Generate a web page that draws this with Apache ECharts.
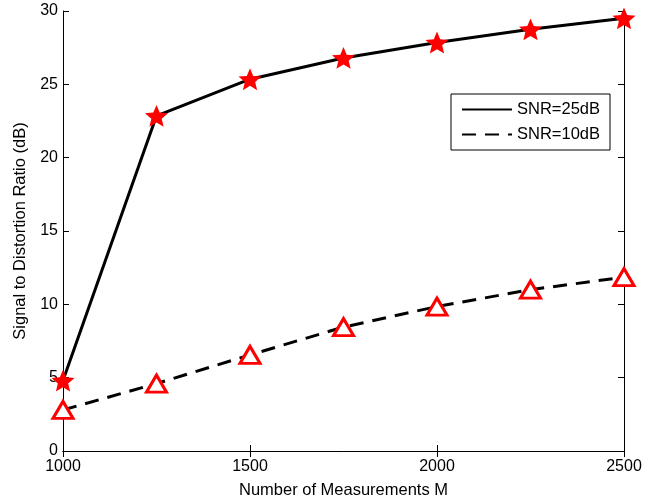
<!DOCTYPE html>
<html><head><meta charset="utf-8">
<script src="https://cdn.jsdelivr.net/npm/echarts@6/dist/echarts.min.js"></script>
<style>html,body{margin:0;padding:0;background:#fff}#c{width:667px;height:504px}</style>
</head><body><div id="c"></div>
<script>
var measurements = [1000, 1250, 1500, 1750, 2000, 2250, 2500];
var snr25 = [4.8, 22.85, 25.35, 26.8, 27.85, 28.75, 29.5];
var snr10 = [2.8, 4.6, 6.55, 8.45, 9.85, 11.0, 11.85];
var seriesNames = ['SNR=25dB', 'SNR=10dB'];
var xTicks = [1000, 1500, 2000, 2500];
var yTicks = [0, 5, 10, 15, 20, 25, 30];

var starPath = 'path://M0,-10 L2.645,-3.64 L9.51,-3.09 L4.28,1.39 L5.88,8.09 L0,4.5 L-5.88,8.09 L-4.28,1.39 L-9.51,-3.09 L-2.645,-3.64 Z';
var font = '"Liberation Sans", Arial, Helvetica, sans-serif';

function pairs(xs, ys){ return xs.map(function(x,i){ return [x, ys[i]]; }); }

var axisCommon = {
  axisLine: {show: true, lineStyle: {color: '#000', width: 1}},
  axisTick: {show: true, inside: true, length: 6, lineStyle: {color: '#000'}},
  splitLine: {show: false}
};

var chart = echarts.init(document.getElementById('c'));
chart.setOption({
  animation: false,
  backgroundColor: '#fff',
  textStyle: {fontFamily: font},
  grid: {left: 63, right: 43, top: 11, bottom: 51},
  legend: {
    data: seriesNames,
    orient: 'vertical',
    left: 451, top: 94,
    padding: [7, 10, 7, 10],
    itemGap: 8,
    itemWidth: 50, itemHeight: 17,
    itemStyle: {opacity: 0},
    borderColor: '#000', borderWidth: 1, borderRadius: 0,
    backgroundColor: '#fff',
    textStyle: {fontSize: 16.5, color: '#000', fontFamily: font}
  },
  xAxis: [
    Object.assign({type: 'value', min: 1000, max: 2500, interval: 500, position: 'bottom',
      name: 'Number of Measurements M', nameLocation: 'middle', nameGap: 31,
      nameTextStyle: {fontSize: 16.5, color: '#000'},
      axisLabel: {color: '#000', fontSize: 16, margin: 8, formatter: function(v){ return String(v); }}}, axisCommon),
    Object.assign({type: 'value', min: 1000, max: 2500, interval: 500, position: 'top',
      axisLabel: {show: false}}, axisCommon)
  ],
  yAxis: [
    Object.assign({type: 'value', min: 0, max: 30, interval: 5, position: 'left',
      name: 'Signal to Distortion Ratio (dB)', nameLocation: 'middle', nameGap: 33,
      nameTextStyle: {fontSize: 16.5, color: '#000'},
      axisLabel: {color: '#000', fontSize: 16, margin: 5}}, axisCommon),
    Object.assign({type: 'value', min: 0, max: 30, interval: 5, position: 'right',
      axisLabel: {show: false}}, axisCommon)
  ],
  series: [
    {name: seriesNames[0], type: 'line', data: [], symbol: 'none',
     lineStyle: {color: '#000', width: 3, type: 'solid'}, itemStyle: {color: '#000'}},
    {name: seriesNames[1], type: 'line', data: [], symbol: 'none',
     lineStyle: {color: '#000', width: 3, type: [14, 9]}, itemStyle: {color: '#000'}},
    {name: 's25', type: 'line', data: pairs(measurements, snr25),
     symbol: starPath, symbolSize: 23, symbolKeepAspect: true,
     lineStyle: {color: '#000', width: 3, type: 'solid'},
     itemStyle: {color: '#ff0000', borderWidth: 0}, z: 3},
    {name: 's10', type: 'line', data: pairs(measurements, snr10),
     symbol: 'triangle', symbolSize: [20, 17],
     lineStyle: {color: '#000', width: 3, type: [14, 9]},
     itemStyle: {color: '#fff', borderColor: '#ff0000', borderWidth: 3}, z: 3}
  ]
});
</script></body></html>
